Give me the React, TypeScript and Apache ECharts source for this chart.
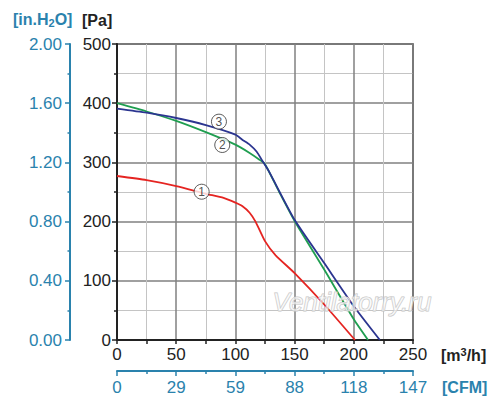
import React, { useEffect, useRef } from "react";
import * as echarts from "echarts";

// Airflow [m3/h] and pressure [Pa] for each curve
const curve1Q = [0, 25, 50, 75, 90, 100, 106, 112, 117, 125, 134, 150, 175, 201];
const curve1P = [277, 270, 260, 247, 240, 232, 226, 215, 200, 167, 143, 113, 60, 0];

const curve2Q = [0, 25, 50, 75, 100, 112, 120, 125, 137, 150, 175, 200, 212];
const curve2P = [400, 386, 370, 351, 330, 316, 305, 297, 250, 201, 119, 35, 0];

const curve3Q = [0, 25, 50, 75, 100, 106, 112, 118, 123, 128, 150, 175, 200, 222];
const curve3P = [391, 384, 375, 363, 347, 338, 330, 318, 302, 286, 203, 130, 57, 0];

// Circled curve markers
const markerQ = [71.5, 88.9, 86.1];
const markerP = [250.5, 329.4, 368.8];
const markerLabels = ["1", "2", "3"];

const FONT = "'Liberation Sans', Arial, sans-serif";
const AXIS_BLUE = "#2a82ad";
const RED = "#e52421";
const GREEN = "#1f9e50";
const NAVY = "#2b3590";

const zip = (q: number[], p: number[]) => q.map((v, i) => [v, p[i]]);

export default function App() {
  const ref = useRef<HTMLDivElement>(null);

  useEffect(() => {
    if (!ref.current) return;
    const chart = echarts.init(ref.current, null, { renderer: "svg" });

    const lineSeries = (data: number[][], color: string) => ({
      type: "line",
      data,
      xAxisIndex: 0,
      yAxisIndex: 0,
      showSymbol: false,
      symbol: "none",
      smooth: 0.2,
      lineStyle: { color, width: 1.8 },
      z: 3,
    });

    chart.setOption({
      animation: false,
      backgroundColor: "#ffffff",
      textStyle: { fontFamily: FONT },
      grid: {
        left: 117,
        right: 87,
        top: 44,
        bottom: 67,
        show: true,
        borderColor: "#333333",
        borderWidth: 1.5,
        backgroundColor: "transparent",
      },
      xAxis: [
        {
          type: "value",
          min: 0,
          max: 250,
          interval: 50,
          position: "bottom",
          axisLine: { show: true, onZero: false, lineStyle: { color: "#222", width: 2 } },
          axisTick: { show: true, length: 4, lineStyle: { color: "#222", width: 1.5 } },
          minorTick: { show: true, splitNumber: 2, length: 4, lineStyle: { color: "#222", width: 1.5 } },
          axisLabel: { color: "#222", fontSize: 17, margin: 6, fontFamily: FONT },
          splitLine: { show: true, lineStyle: { color: "#808080", width: 1.5 } },
          minorSplitLine: { show: true, lineStyle: { color: "#c4c4c4", width: 1 } },
        },
        {
          type: "value",
          min: 0,
          max: 250,
          interval: 50,
          position: "bottom",
          offset: 31,
          axisLine: { show: true, onZero: false, lineStyle: { color: AXIS_BLUE, width: 2 } },
          axisTick: { show: true, length: 5, lineStyle: { color: AXIS_BLUE, width: 1.5 } },
          minorTick: { show: true, splitNumber: 2, length: 3, lineStyle: { color: AXIS_BLUE, width: 1.5 } },
          axisLabel: {
            color: AXIS_BLUE,
            fontSize: 17,
            margin: 8,
            fontFamily: FONT,
            formatter: (v: number) => String(Math.round(v * 0.5886)),
          },
          splitLine: { show: false },
          minorSplitLine: { show: false },
        },
      ],
      yAxis: [
        {
          type: "value",
          min: 0,
          max: 500,
          interval: 100,
          position: "left",
          axisLine: { show: true, onZero: false, lineStyle: { color: "#222", width: 2 } },
          axisTick: { show: true, length: 5, lineStyle: { color: "#222", width: 1.5 } },
          minorTick: { show: true, splitNumber: 2, length: 3, lineStyle: { color: "#222", width: 1.5 } },
          axisLabel: { color: "#222", fontSize: 17, margin: 6, fontFamily: FONT },
          splitLine: { show: true, lineStyle: { color: "#808080", width: 1.5 } },
          minorSplitLine: { show: true, lineStyle: { color: "#c4c4c4", width: 1 } },
        },
        {
          type: "value",
          min: 0,
          max: 2,
          interval: 0.4,
          position: "left",
          offset: 47,
          axisLine: { show: true, onZero: false, lineStyle: { color: AXIS_BLUE, width: 2 } },
          axisTick: { show: true, length: 5, lineStyle: { color: AXIS_BLUE, width: 1.5 } },
          minorTick: { show: true, splitNumber: 2, length: 2.5, lineStyle: { color: AXIS_BLUE, width: 1.5 } },
          axisLabel: {
            color: AXIS_BLUE,
            fontSize: 17,
            margin: 8,
            fontFamily: FONT,
            formatter: (v: number) => v.toFixed(2),
          },
          splitLine: { show: false },
          minorSplitLine: { show: false },
        },
      ],
      series: [
        lineSeries(zip(curve1Q, curve1P), RED),
        lineSeries(zip(curve2Q, curve2P), GREEN),
        lineSeries(zip(curve3Q, curve3P), NAVY),
        {
          type: "scatter",
          xAxisIndex: 0,
          yAxisIndex: 0,
          data: markerQ.map((q, i) => ({ value: [q, markerP[i]], name: markerLabels[i] })),
          symbol: "circle",
          symbolSize: 15,
          itemStyle: { color: "#ffffff", borderColor: "#333333", borderWidth: 1 },
          label: {
            show: true,
            position: "inside",
            formatter: (p: any) => p.name,
            color: "#222",
            fontSize: 12,
            fontFamily: FONT,
          },
          z: 5,
        },
      ],
      graphic: [
        {
          type: "text",
          left: 13,
          top: 11,
          style: {
            text: "{a|[in.H}{s|2}{a|O]}",
            rich: {
              a: { fontSize: 16, fontWeight: "bold", fill: AXIS_BLUE, fontFamily: FONT },
              s: { fontSize: 11, fontWeight: "bold", fill: AXIS_BLUE, fontFamily: FONT, padding: [8, 0, 0, 0] },
            },
          },
        },
        {
          type: "text",
          left: 82,
          top: 12,
          style: { text: "[Pa]", fontSize: 16, fontWeight: "bold", fill: "#222", fontFamily: FONT },
        },
        {
          type: "text",
          left: 441,
          top: 346,
          style: {
            text: "{a|[m}{s|3}{a|/h]}",
            rich: {
              a: { fontSize: 16, fontWeight: "bold", fill: "#222", fontFamily: FONT, padding: [8, 0, 0, 0] },
              s: { fontSize: 11, fontWeight: "bold", fill: "#222", fontFamily: FONT },
            },
          },
        },
        {
          type: "text",
          left: 442,
          top: 379,
          style: { text: "[CFM]", fontSize: 16, fontWeight: "bold", fill: AXIS_BLUE, fontFamily: FONT },
        },
        {
          type: "text",
          left: 272,
          top: 288,
          z: 10,
          style: {
            text: "Ventilatorry.ru",
            fontSize: 26,
            fontStyle: "italic",
            fontFamily: FONT,
            fill: "rgba(255,255,255,0.55)",
            stroke: "#c4c4c4",
            lineWidth: 1,
          },
        },
      ],
    });

    return () => chart.dispose();
  }, []);

  return (
    <div
      ref={ref}
      style={{ position: "absolute", left: 0, top: 0, width: 500, height: 407 }}
    />
  );
}
